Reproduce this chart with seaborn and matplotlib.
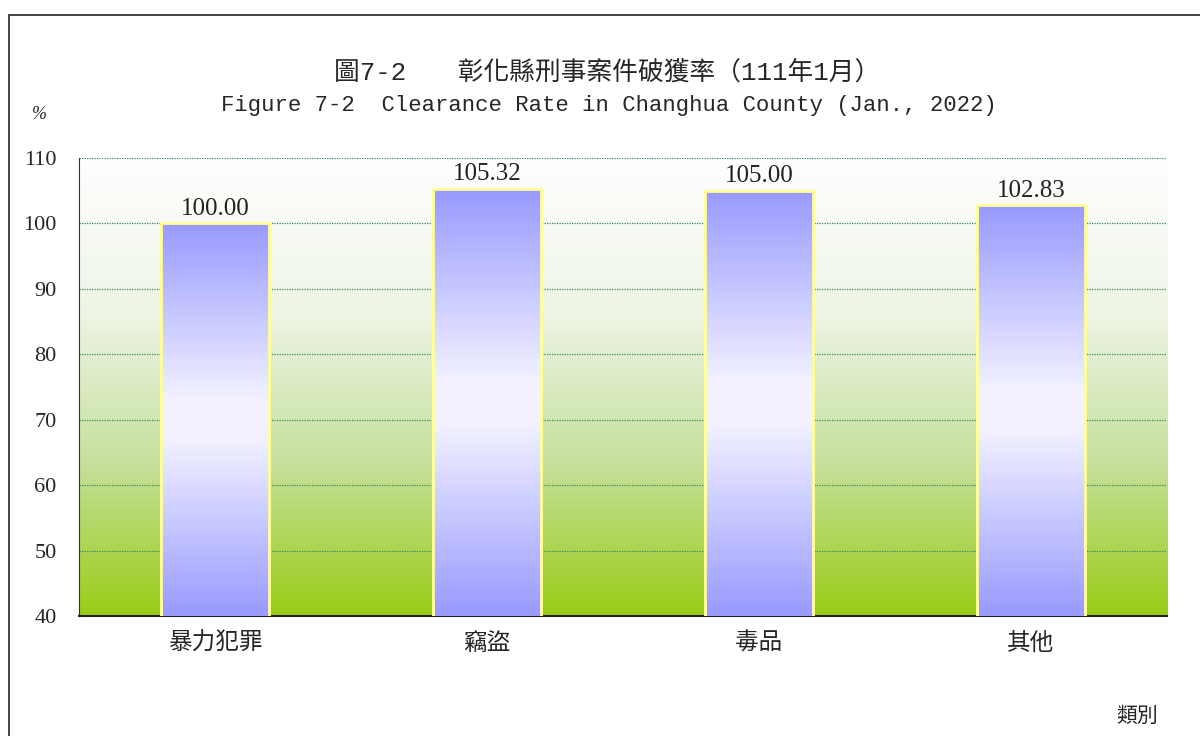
import numpy as np
import pandas as pd
import seaborn as sns
import matplotlib.pyplot as plt
from matplotlib.colors import LinearSegmentedColormap
from matplotlib.patches import Rectangle

categories = ['暴力犯罪', '竊盜', '毒品', '其他']
rates = [100.00, 105.32, 105.00, 102.83]
y_ticks = [40, 50, 60, 70, 80, 90, 100, 110]

df = pd.DataFrame({'category': categories, 'rate': rates})

sns.set_style('white')
plt.rcParams['font.family'] = ['Liberation Serif', 'Noto Sans CJK TC', 'DejaVu Sans']
mono = ['Liberation Mono', 'Noto Sans CJK TC', 'DejaVu Sans']

fig = plt.figure(figsize=(12, 7.36), dpi=100)
ax = fig.add_axes([0.0658, 0.163, 0.9067, 0.6223])

sns.barplot(data=df, x='category', y='rate', width=0.4, color='#9999ff',
            edgecolor='#ffff99', linewidth=2, ax=ax, zorder=3)
ax.set_ylim(40, 110)
ax.set_xlim(-0.5, len(categories) - 0.5)

# background gradient (green bottom -> white top)
bg = LinearSegmentedColormap.from_list('bg', ['#99cc16', '#c6e09c', '#eef5e6', '#ffffff'])
grad = np.linspace(0, 1, 256).reshape(-1, 1)
ax.imshow(grad, cmap=bg, aspect='auto', extent=[0, 1, 0, 1], origin='lower',
          transform=ax.transAxes, zorder=0)

# bar gradient (purple - white - purple)
bar_cmap = LinearSegmentedColormap.from_list(
    'bar', [(0, '#9999ff'), (0.45, '#f2f2ff'), (0.55, '#f2f2ff'), (1, '#9999ff')])
for p in ax.patches:
    x0, y0 = p.get_x(), 40
    w, h = p.get_width(), p.get_y() + p.get_height()
    im = ax.imshow(grad, cmap=bar_cmap, aspect='auto', origin='lower',
                   extent=[x0, x0 + w, y0, h], zorder=3.5)
    im.set_clip_path(p)
    edge = Rectangle((p.get_x(), p.get_y()), w, p.get_height(), fill=False,
                     edgecolor='#ffff99', linewidth=2, zorder=4)
    ax.add_patch(edge)
    ax.text(p.get_x() + w / 2, p.get_y() + p.get_height() + 0.5,
            f'{p.get_y() + p.get_height():.2f}', ha='center', va='bottom',
            fontsize=18, color='#222222', zorder=5)

ax.set_xlim(-0.5, len(categories) - 0.5)
ax.set_ylim(40, 110)

ax.set_yticks(y_ticks)
ax.yaxis.grid(True, linestyle=(0, (1, 1)), color='#3c8a5e', linewidth=0.9, zorder=1)
ax.set_axisbelow(True)
for s in ['top', 'right']:
    ax.spines[s].set_visible(False)
ax.spines['left'].set_color('#333333')
ax.spines['bottom'].set_color('#222222')
ax.spines['bottom'].set_linewidth(1.5)

ax.set_xticks(range(len(categories)))
ax.set_xticklabels(categories, fontsize=17)
ax.set_xticks(np.arange(-0.5, len(categories)), minor=True)
ax.tick_params(axis='x', which='major', length=0, pad=12)
ax.tick_params(axis='x', which='minor', length=5, direction='in', color='#333333')
ax.tick_params(axis='y', length=4, direction='out', labelsize=16, pad=12)
ax.set_xlabel('')
ax.set_ylabel('')

fig.text(0.506, 0.902, '圖7-2\u3000\u3000彰化縣刑事案件破獲率（111年1月）',
         ha='center', va='center', fontsize=18.5, family=mono)
fig.text(0.507, 0.856, 'Figure 7-2  Clearance Rate in Changhua County (Jan., 2022)',
         ha='center', va='center', fontsize=16, family=mono)
fig.text(0.033, 0.845, '%', ha='center', va='center', fontsize=13, style='italic')
fig.text(0.9475, 0.025, '類別', ha='center', va='center', fontsize=15)

fig.patches.append(Rectangle((9 / 1200, -0.1), 1.2, 1 - 15 / 736 + 0.1,
                             transform=fig.transFigure, fill=False,
                             edgecolor='#222222', linewidth=1.2))

fig.savefig('out.png', dpi=100)
